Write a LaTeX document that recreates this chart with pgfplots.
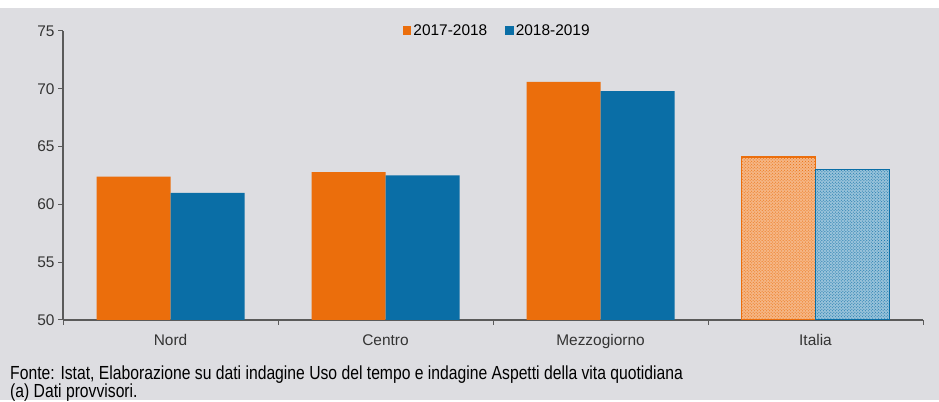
\documentclass[border=0pt]{standalone}
\usepackage{pgfplots}
\pgfplotsset{compat=1.18}
\usetikzlibrary{patterns}
\usepackage{fontspec}
\setmainfont{Liberation Sans}
\definecolor{bg}{RGB}{221,221,225}
\definecolor{cor}{RGB}{235,110,12}
\definecolor{cbl}{RGB}{10,110,166}
\definecolor{axc}{RGB}{90,90,90}
\newsavebox{\fontebox}
\begin{document}
\sbox{\fontebox}{\fontsize{19}{19}\selectfont Fonte: Istat, Elaborazione su dati indagine Uso del tempo e indagine Aspetti della vita quotidiana}%
\pgfmathsetmacro{\sx}{675.3/\wd\fontebox}%
\begin{tikzpicture}[x=1bp,y=1bp]
\fill[bg] (0,0) rectangle (939,392);
\fill[white] (0,392) rectangle (939,400);
\begin{axis}[
  at={(63bp,80bp)}, anchor=south west,
  scale only axis, width=860bp, height=289bp,
  xmin=-0.5, xmax=3.5, ymin=50, ymax=75,
  ytick={50,55,...,75},
  xtick={0,1,2,3},
  xticklabels={Nord,Centro,Mezzogiorno,Italia},
  minor xtick={-0.5,0.5,1.5,2.5,3.5},
  major x tick style={draw=none},
  axis x line*=bottom, axis y line*=left,
  axis line style={axc, line width=1.3bp, -},
  tick style={axc, line width=1bp},
  tick align=outside, major tick length=5bp, minor tick length=5bp,
  /pgf/number format/assume math mode=true,
  ticklabel style={font=\fontsize{15.5}{16}\selectfont, text=black!80},
  xticklabel style={yshift=-6bp},
  bar width=74bp,
  legend style={at={(0.505,1)}, anchor=center, draw=none, fill=none,
    font=\fontsize{15.5}{16}\selectfont, legend columns=2,
    /tikz/every even column/.append style={column sep=16bp}, inner sep=0pt},
  legend image code/.code={\fill[#1] (0bp,-4.5bp) rectangle (8.5bp,4.5bp);},
]
\addplot[ybar, bar shift=-37bp, fill=cor, draw=none] coordinates {(0,62.4) (1,62.8) (2,70.6)};
\addlegendentry{2017-2018}
\addplot[ybar, bar shift=37bp, fill=cbl, draw=none] coordinates {(0,61.0) (1,62.5) (2,69.8)};
\addlegendentry{2018-2019}
\addplot[ybar, bar shift=-37bp, fill=cor!50!white, draw=none,
  postaction={pattern=crosshatch dots, pattern color=cor}, forget plot] coordinates {(3,64.1)};
\addplot[ybar, bar shift=37bp, fill=cbl!42!white, draw=none,
  postaction={pattern=crosshatch dots, pattern color=cbl}, forget plot] coordinates {(3,63.0)};
\addplot[ybar, bar shift=-37bp, fill=none, draw=cor, line width=1.2bp, forget plot] coordinates {(3,64.1)};
\addplot[ybar, bar shift=37bp, fill=none, draw=cbl, line width=1.2bp, forget plot] coordinates {(3,63.0)};
\end{axis}
\node[anchor=base west, inner sep=0pt] at (10,20) {\scalebox{\sx}[1]{\usebox{\fontebox}}};
\node[anchor=base west, inner sep=0pt] at (10,2) {\scalebox{\sx}[1]{\fontsize{19}{19}\selectfont (a) Dati provvisori.}};
\end{tikzpicture}
\end{document}
